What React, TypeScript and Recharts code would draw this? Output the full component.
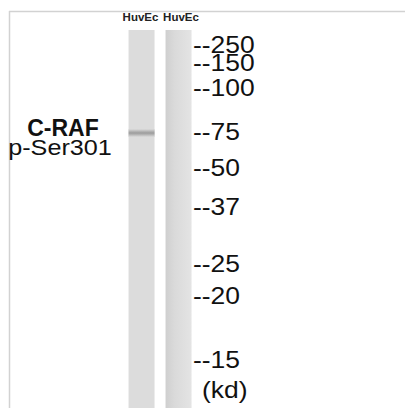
import React from 'react';
import { ComposedChart, Bar, XAxis, YAxis, Cell, Customized } from 'recharts';

// ---- data ----
const laneIds = ['lane1', 'lane2'];
const laneLabels = ['HuvEc', 'HuvEc'];
const laneSpan: [number, number] = [0, 378]; // migration units, well to bottom of gel
const bandRanges: ([number, number] | null)[] = [[99, 107], null];
const markerLabels = ['250', '150', '100', '75', '50', '37', '25', '20', '15'];
const markerMigration = [15, 33, 58, 102, 138, 177, 234, 266, 330];
const unitLabel = '(kd)';
const unitMigration = 360;
const targetName = 'C-RAF';
const targetSite = 'p-Ser301';

const laneFills = ['#dcdcdc', 'url(#lane2Grad)'];
const laneLabelShift = [-1, 2.5];

const data = laneIds.map((id, i) => ({
  id,
  label: laneLabels[i],
  lane: laneSpan,
  band: bandRanges[i],
}));

const W = 405;
const H = 408;

const MarkerTick = (props: any) => {
  const { x, y, payload } = props;
  const v = payload.value;
  const isUnit = v === unitMigration;
  const idx = markerMigration.indexOf(v);
  const text = isUnit ? unitLabel : '--' + markerLabels[idx];
  const tx = isUnit ? x + 5 : x - 4;
  return (
    <text
      transform={`translate(${tx},${y}) scale(1.15,1)`}
      dy="0.36em"
      textAnchor="start"
      fontFamily="Liberation Sans, Arial, sans-serif"
      fontSize={23}
      fill="#111"
    >
      {text}
    </text>
  );
};

const LaneTick = (props: any) => {
  const { x, y, index } = props;
  return (
    <text
      x={x + laneLabelShift[index]}
      y={y - 9}
      textAnchor="middle"
      fontFamily="Liberation Sans, Arial, sans-serif"
      fontWeight="bold"
      fontSize={11.5}
      fill="#222"
    >
      {laneLabels[index]}
    </text>
  );
};

const FrameAndTitle = () => (
  <g>
    <line x1={9} y1={11.5} x2={W} y2={11.5} stroke="#d2d2d2" strokeWidth={1.5} />
    <line x1={9.5} y1={11} x2={9.5} y2={H} stroke="#d2d2d2" strokeWidth={1.5} />
    <text
      x={63}
      y={136}
      textAnchor="middle"
      fontFamily="Liberation Sans, Arial, sans-serif"
      fontWeight="bold"
      fontSize={23}
      fill="#111"
    >
      {targetName}
    </text>
    <text
      transform="translate(60,155) scale(1.12,1)"
      textAnchor="middle"
      fontFamily="Liberation Sans, Arial, sans-serif"
      fontSize={22.5}
      fill="#111"
    >
      {targetSite}
    </text>
  </g>
);

export default function App() {
  return (
    <div style={{ position: 'absolute', left: 0, top: 0, width: W, height: H, background: '#fff' }}>
      <ComposedChart
        width={W}
        height={H}
        data={data}
        margin={{ top: 0, right: 128, bottom: 0, left: 123 }}
        barCategoryGap="15%"
      >
        <defs>
          <linearGradient id="lane2Grad" x1="0" y1="0" x2="1" y2="0">
            <stop offset="0%" stopColor="#cfcfcf" />
            <stop offset="35%" stopColor="#dadada" />
            <stop offset="100%" stopColor="#e4e4e4" />
          </linearGradient>
          <linearGradient id="bandGrad" x1="0" y1="0" x2="0" y2="1">
            <stop offset="0%" stopColor="#dcdcdc" />
            <stop offset="30%" stopColor="#b4b4b4" />
            <stop offset="50%" stopColor="#9c9c9c" />
            <stop offset="70%" stopColor="#b4b4b4" />
            <stop offset="100%" stopColor="#dcdcdc" />
          </linearGradient>
        </defs>
        <XAxis
          dataKey="id"
          orientation="top"
          height={30}
          axisLine={false}
          tickLine={false}
          tickSize={0}
          tickMargin={0}
          tick={<LaneTick />}
          interval={0}
        />
        <XAxis xAxisId="band" dataKey="id" hide />
        <YAxis
          type="number"
          orientation="right"
          domain={[0, 378]}
          reversed
          width={80}
          ticks={[...markerMigration, unitMigration]}
          interval={0}
          axisLine={false}
          tickLine={false}
          tickSize={0}
          tickMargin={0}
          tick={<MarkerTick />}
          allowDataOverflow
        />
        <Bar dataKey="lane" isAnimationActive={false}>
          {data.map((d, i) => (
            <Cell key={d.id} fill={laneFills[i]} />
          ))}
        </Bar>
        <Bar dataKey="band" xAxisId="band" fill="url(#bandGrad)" isAnimationActive={false} />
        <Customized component={<FrameAndTitle />} />
      </ComposedChart>
    </div>
  );
}
